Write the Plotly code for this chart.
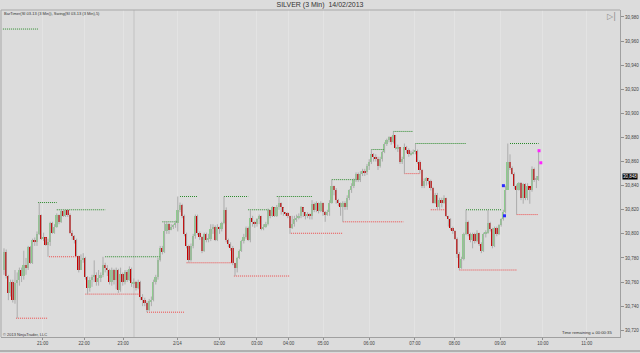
import plotly.graph_objects as go

# ---------------- data (SILVER 3 Min, 14/02/2013) ----------------
first_open = 30770
close = [30785, 30765, 30751, 30760, 30745, 30759, 30762, 30770, 30765, 30774,
         30772, 30789, 30776, 30795, 30793, 30800, 30816, 30796, 30797, 30791,
         30793, 30809, 30801, 30806, 30816, 30810, 30819, 30815, 30820, 30816,
         30801, 30798, 30795, 30782, 30770, 30778, 30780, 30764, 30755, 30762,
         30764, 30766, 30760, 30763, 30766, 30774, 30772, 30770, 30760, 30770,
         30762, 30770, 30753, 30767, 30760, 30768, 30762, 30771, 30759, 30760,
         30755, 30760, 30748, 30745, 30743, 30737, 30744, 30745, 30760, 30764,
         30778, 30788, 30785, 30802, 30808, 30803, 30806, 30807, 30809, 30820,
         30824, 30815, 30800, 30790, 30778, 30790, 30798, 30815, 30801, 30797,
         30786, 30800, 30795, 30796, 30804, 30806, 30795, 30806, 30804, 30809,
         30820, 30795, 30792, 30788, 30776, 30772, 30780, 30786, 30794, 30797,
         30805, 30795, 30813, 30810, 30808, 30812, 30815, 30804, 30806, 30808,
         30820, 30815, 30822, 30815, 30822, 30826, 30822, 30818, 30817, 30815,
         30805, 30808, 30812, 30813, 30815, 30822, 30818, 30815, 30816, 30815,
         30825, 30820, 30826, 30819, 30826, 30818, 30816, 30818, 30826, 30840,
         30836, 30828, 30826, 30822, 30826, 30822, 30830, 30836, 30840, 30845,
         30850, 30845, 30850, 30852, 30851, 30856, 30860, 30866, 30864, 30862,
         30856, 30862, 30868, 30875, 30878, 30880, 30876, 30882, 30871, 30872,
         30860, 30862, 30872, 30870, 30866, 30867, 30868, 30869, 30860, 30853,
         30840, 30844, 30846, 30844, 30838, 30826, 30832, 30822, 30828, 30826,
         30830, 30815, 30812, 30805, 30802, 30796, 30783, 30772, 30779, 30800,
         30810, 30800, 30795, 30800, 30794, 30801, 30792, 30786, 30800, 30801,
         30809, 30804, 30790, 30805, 30800, 30807, 30812, 30818, 30836, 30860,
         30855, 30850, 30840, 30836, 30842, 30830, 30841, 30830, 30840, 30836,
         30854, 30845, 30845, 30848]
high = [30788, 30787, 30766, 30762, 30762, 30770, 30768, 30772, 30772, 30786,
        30780, 30790, 30790, 30796, 30797, 30802, 30826, 30816, 30801, 30797,
        30796, 30810, 30810, 30808, 30817, 30816, 30820, 30820, 30820, 30820,
        30817, 30803, 30799, 30796, 30782, 30783, 30784, 30781, 30765, 30764,
        30766, 30778, 30768, 30770, 30768, 30781, 30776, 30774, 30771, 30772,
        30771, 30772, 30771, 30772, 30768, 30770, 30770, 30773, 30772, 30763,
        30761, 30762, 30761, 30750, 30747, 30744, 30746, 30748, 30762, 30766,
        30780, 30790, 30790, 30810, 30810, 30809, 30808, 30808, 30811, 30831,
        30826, 30825, 30816, 30801, 30791, 30792, 30800, 30816, 30816, 30802,
        30798, 30801, 30801, 30800, 30808, 30808, 30807, 30808, 30806, 30810,
        30831, 30822, 30796, 30793, 30790, 30776, 30781, 30787, 30795, 30800,
        30806, 30806, 30820, 30815, 30811, 30813, 30816, 30815, 30808, 30810,
        30821, 30820, 30823, 30822, 30824, 30831, 30826, 30822, 30818, 30818,
        30815, 30815, 30815, 30816, 30817, 30823, 30822, 30818, 30818, 30817,
        30828, 30826, 30827, 30826, 30827, 30826, 30819, 30820, 30828, 30845,
        30840, 30838, 30829, 30826, 30827, 30827, 30832, 30837, 30842, 30846,
        30851, 30851, 30852, 30854, 30854, 30858, 30862, 30870, 30867, 30866,
        30864, 30864, 30869, 30876, 30879, 30881, 30881, 30885, 30882, 30874,
        30872, 30864, 30875, 30873, 30871, 30869, 30870, 30875, 30870, 30861,
        30854, 30846, 30847, 30846, 30845, 30839, 30834, 30834, 30830, 30830,
        30832, 30830, 30815, 30813, 30806, 30803, 30797, 30785, 30781, 30801,
        30820, 30811, 30801, 30801, 30801, 30803, 30801, 30793, 30801, 30803,
        30820, 30810, 30805, 30806, 30806, 30808, 30813, 30820, 30840, 30875,
        30866, 30856, 30851, 30841, 30843, 30843, 30842, 30842, 30842, 30838,
        30856, 30855, 30848, 30870]
low = [30766, 30763, 30745, 30748, 30743, 30742, 30730, 30757, 30760, 30762,
       30766, 30770, 30775, 30775, 30790, 30790, 30799, 30795, 30794, 30790,
       30781, 30790, 30800, 30800, 30805, 30808, 30809, 30814, 30814, 30814,
       30800, 30795, 30792, 30781, 30768, 30770, 30776, 30762, 30750, 30752,
       30756, 30760, 30757, 30757, 30760, 30764, 30768, 30765, 30758, 30757,
       30758, 30754, 30751, 30752, 30757, 30758, 30760, 30761, 30756, 30755,
       30753, 30754, 30745, 30740, 30740, 30735, 30736, 30740, 30744, 30758,
       30762, 30777, 30783, 30784, 30800, 30800, 30803, 30804, 30805, 30802,
       30818, 30813, 30798, 30788, 30776, 30777, 30788, 30796, 30799, 30795,
       30784, 30785, 30793, 30793, 30794, 30800, 30794, 30794, 30800, 30802,
       30808, 30793, 30789, 30786, 30774, 30765, 30768, 30779, 30785, 30792,
       30796, 30794, 30793, 30806, 30805, 30806, 30808, 30803, 30803, 30805,
       30807, 30813, 30814, 30814, 30814, 30820, 30816, 30815, 30815, 30813,
       30800, 30804, 30806, 30810, 30812, 30813, 30814, 30812, 30813, 30812,
       30812, 30818, 30818, 30817, 30818, 30815, 30810, 30815, 30815, 30825,
       30832, 30825, 30823, 30815, 30810, 30820, 30820, 30828, 30834, 30838,
       30843, 30843, 30843, 30848, 30848, 30849, 30853, 30858, 30860, 30860,
       30853, 30855, 30860, 30867, 30873, 30876, 30874, 30875, 30870, 30868,
       30858, 30858, 30850, 30867, 30864, 30865, 30866, 30866, 30858, 30850,
       30838, 30838, 30840, 30841, 30836, 30825, 30825, 30820, 30820, 30822,
       30825, 30814, 30806, 30803, 30800, 30795, 30780, 30770, 30771, 30778,
       30799, 30798, 30793, 30788, 30792, 30793, 30790, 30784, 30785, 30797,
       30800, 30802, 30788, 30789, 30798, 30799, 30806, 30811, 30817, 30838,
       30853, 30849, 30837, 30816, 30836, 30828, 30825, 30828, 30828, 30825,
       30835, 30843, 30838, 30844]

# Swing(5) levels: start bar, end bar, price
swing_high_start = [-0.5, 15.5, 24, 46, 72, 80, 100, 111, 124, 149, 167, 177, 187, 210, 230]
swing_high_end = [15.5, 24, 46, 71, 79, 88, 111, 121, 140, 162, 173, 186, 210, 226, 243]
swing_high_price = [30970, 30826, 30820, 30781, 30810, 30831, 30831, 30820, 30831, 30845,
                    30870, 30885, 30875, 30820, 30875]
swing_low_start = [5.5, 20.5, 37, 65, 83, 104.5, 130.5, 154, 182, 194, 207, 233]
swing_low_end = [20, 33, 62, 82, 104, 130, 154, 181.5, 189, 200.5, 233, 243]
swing_low_price = [30730, 30781, 30750, 30735, 30776, 30765, 30800.5, 30810, 30850, 30820,
                   30770, 30816]

# markers drawn on chart (blue / magenta)
blue_bar = [227, 227.5]
blue_price = [30840, 30815]
magenta_bar = [243.2, 244]
magenta_price = [30869, 30859]

# axis labels
time_ticks = [17.6, 36.4, 54.2, 78.8, 97.9, 114.9, 129.4, 145.1, 166, 186.8, 204.7, 225.5, 244.9, 264.9]
time_labels = ["21:00", "22:00", "23:00", "2/14", "02:00", "03:00", "04:00", "05:00",
               "06:00", "07:00", "08:00", "09:00", "10:00", "11:00"]
price_ticks = list(range(30720, 30981, 20))
session_break = 59.1
last_price = 30848

# ---------------- figure ----------------
opens = [first_open] + close[:-1]
idx = list(range(len(close)))

UP = "#8ccb8c"
DOWN = "#c40000"
WICK = "#acacac"
BG = "#dcdcdc"
FONT = "Liberation Sans, Arial, sans-serif"

fig = go.Figure()

# swing lines
def seg(starts, ends, prices):
    xs, ys = [], []
    for s, e, p in zip(starts, ends, prices):
        xs += [s, e, None]
        ys += [p, p, None]
    return xs, ys

hx, hy = seg(swing_high_start, swing_high_end, swing_high_price)
lx, ly = seg(swing_low_start, swing_low_end, swing_low_price)
fig.add_trace(go.Scatter(x=hx, y=hy, mode="lines",
                         line=dict(color="#2a8a2a", width=1, dash="1px,1px"), hoverinfo="skip"))
fig.add_trace(go.Scatter(x=lx, y=ly, mode="lines",
                         line=dict(color="#ee4a4a", width=1, dash="1px,1px"), hoverinfo="skip"))

# wicks
wx, wy = [], []
for i, h, l in zip(idx, high, low):
    wx += [i, i, None]
    wy += [l, h, None]
fig.add_trace(go.Scatter(x=wx, y=wy, mode="lines", line=dict(color=WICK, width=1), hoverinfo="skip"))

# bodies
bases = [min(o, c) for o, c in zip(opens, close)]
heights = [max(abs(c - o), 0.8) for o, c in zip(opens, close)]
colors = [UP if c > o else (DOWN if c < o else WICK) for o, c in zip(opens, close)]
fig.add_trace(go.Bar(x=idx, y=heights, base=bases, width=0.8,
                     marker=dict(color=colors, line=dict(width=0)), hoverinfo="skip"))

fig.add_trace(go.Scatter(x=blue_bar, y=blue_price, mode="markers",
                         marker=dict(symbol="square", size=3, color="#2a2aff"), hoverinfo="skip"))
fig.add_trace(go.Scatter(x=magenta_bar, y=magenta_price, mode="markers",
                         marker=dict(symbol="square", size=3, color="#ff22ff"), hoverinfo="skip"))

fig.update_layout(
    width=640, height=353,
    margin=dict(l=1, r=20, t=10, b=16),
    paper_bgcolor=BG, plot_bgcolor=BG,
    showlegend=False, bargap=0,
    font=dict(family=FONT, color="#333333"),
    title=dict(text="SILVER (3 Min)  14/02/2013", x=0.5, xanchor="center",
               y=1 - 4.5 / 353, yanchor="middle", font=dict(size=7, color="#333333", family=FONT)),
    xaxis=dict(range=[-1.36, 280], tickvals=time_ticks, ticktext=time_labels,
               tickfont=dict(size=4.5, color="#444444"), ticks="outside", ticklen=2,
               tickcolor="#909090", showgrid=True, gridcolor="#e3e3e3", gridwidth=1,
               zeroline=False, showline=True, linecolor="#a0a0a0", linewidth=1, fixedrange=True),
    yaxis=dict(range=[30714.4, 30985.8], side="right", tickvals=price_ticks, tickformat=",d",
               tickfont=dict(size=4.5, color="#444444"), ticks="outside", ticklen=3,
               tickcolor="#909090", showgrid=False, zeroline=False, showline=True,
               linecolor="#a0a0a0", linewidth=1, fixedrange=True),
)

# session break and frame
fig.add_shape(type="line", xref="x", yref="paper", x0=session_break, x1=session_break, y0=0, y1=1,
              line=dict(color="#c2c2c2", width=1), layer="below")
fig.add_shape(type="line", xref="paper", yref="paper", x0=0, x1=1, y0=1, y1=1,
              line=dict(color="#a8a8a8", width=1))
fig.add_shape(type="line", xref="paper", yref="paper", x0=0, x1=0, y0=0, y1=1,
              line=dict(color="#a8a8a8", width=1))
fig.add_shape(type="line", xref="paper", yref="paper", x0=-0.01, x1=1.04, y0=-14 / 327, y1=-14 / 327,
              line=dict(color="#b0b0b0", width=2))

fig.add_annotation(text="BarTimer(SI 03-13 (3 Min)), Swing(SI 03-13 (3 Min),5)",
                   xref="paper", yref="paper", x=0.002, y=1 - 4 / 327, xanchor="left", yanchor="middle",
                   showarrow=False, font=dict(size=4, color="#333333", family=FONT))
fig.add_annotation(text="© 2013 NinjaTrader, LLC", xref="paper", yref="paper", x=0.0, y=3 / 327,
                   xanchor="left", yanchor="middle", showarrow=False,
                   font=dict(size=4, color="#333333", family=FONT))
fig.add_annotation(text="Time remaining = 00:00:35", xref="paper", yref="paper", x=0.99, y=5 / 327,
                   xanchor="right", yanchor="middle", showarrow=False,
                   font=dict(size=4.2, color="#333333", family=FONT))
fig.add_annotation(text="▷|", xref="paper", yref="paper", x=0.986, y=1 - 6 / 327,
                   xanchor="center", yanchor="middle", showarrow=False,
                   font=dict(size=8, color="#8a8a8a", family="DejaVu Sans"))
fig.add_annotation(text=f"{last_price:,}", xref="paper", yref="y", x=1.003, y=last_price,
                   xanchor="left", yanchor="middle", showarrow=False, bgcolor="#000000",
                   borderpad=0, font=dict(size=4.5, color="#ffffff", family=FONT))

fig.write_html("out.html")
